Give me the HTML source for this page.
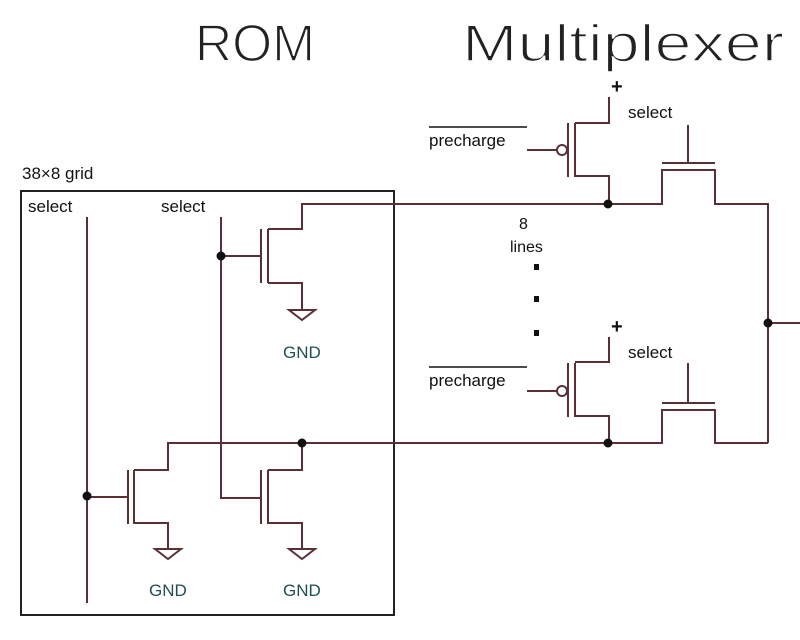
<!DOCTYPE html>
<html><head><style>
html,body{margin:0;padding:0;background:#fff;}
svg{display:block;}
text{font-family:"Liberation Sans","DejaVu Sans",sans-serif;}
</style></head><body>
<svg width="800" height="640" viewBox="0 0 800 640" xmlns="http://www.w3.org/2000/svg">
<rect width="800" height="640" fill="#fff"/>
<text x="195" y="61" font-size="52" fill="#222" textLength="120" lengthAdjust="spacingAndGlyphs" stroke="#fff" stroke-width="1.5">ROM</text>
<text x="462" y="61" font-size="52" fill="#222" textLength="322" lengthAdjust="spacingAndGlyphs" stroke="#fff" stroke-width="1.5">Multiplexer</text>
<text x="22" y="179" font-size="17" fill="#111">38×8 grid</text>
<rect x="21" y="191" width="373" height="424" fill="none" stroke="#222" stroke-width="2"/>
<g fill="#111" font-size="17">
<text x="28" y="212">select</text>
<text x="161" y="212">select</text>
<text x="429" y="146">precharge</text>
<text x="429" y="386">precharge</text>
<text x="628" y="118">select</text>
<text x="628" y="358">select</text>
<text x="519" y="229" font-size="16">8</text>
<text x="510" y="252" font-size="16">lines</text>
<text x="611" y="93" font-size="20" font-weight="bold">+</text>
<text x="611" y="333" font-size="20" font-weight="bold">+</text>
</g>
<g fill="#1f4f55" font-size="17">
<text x="283" y="358">GND</text>
<text x="149" y="596">GND</text>
<text x="283" y="596">GND</text>
</g>
<g stroke="#111" stroke-width="1.5">
<line x1="429" y1="127" x2="527" y2="127"/>
<line x1="429" y1="367" x2="527" y2="367"/>
</g>
<g stroke="#5a3035" stroke-width="2" fill="none">
<line x1="87" y1="217" x2="87" y2="603"/>
<polyline points="221,217 221,498 261,498"/>
<line x1="221" y1="256" x2="261" y2="256"/>
<line x1="261" y1="229" x2="261" y2="283"/>
<line x1="268" y1="229" x2="268" y2="283"/>
<polyline points="268,229 302,229 302,204 608,204"/>
<polyline points="268,283 302,283 302,310"/>
<polygon points="289,310 315,310 302,320"/>
<line x1="87" y1="497" x2="128" y2="497"/>
<line x1="128" y1="470" x2="128" y2="524"/>
<line x1="134" y1="470" x2="134" y2="524"/>
<polyline points="134,470 168,470 168,443 608,443"/>
<polyline points="134,523 168,523 168,549"/>
<polygon points="155,549 181,549 168,559"/>
<line x1="261" y1="470" x2="261" y2="524"/>
<line x1="268" y1="470" x2="268" y2="524"/>
<polyline points="268,470 302,470 302,443"/>
<polyline points="268,523 302,523 302,549"/>
<polygon points="289,549 315,549 302,559"/>
<polyline points="609,97 609,123 575,123"/>
<line x1="568" y1="123" x2="568" y2="177"/>
<line x1="575" y1="123" x2="575" y2="177"/>
<circle cx="562" cy="150" r="5"/>
<line x1="527" y1="150" x2="557" y2="150"/>
<polyline points="575,176 609,176 609,204"/>
<line x1="688" y1="125" x2="688" y2="163"/>
<line x1="662" y1="163" x2="715" y2="163"/>
<polyline points="608,204 662,204 662,170 715,170 715,204 768,204 768,443"/>
<line x1="768" y1="323" x2="800" y2="323"/>
<polyline points="609,337 609,362 575,362"/>
<line x1="568" y1="363" x2="568" y2="417"/>
<line x1="575" y1="363" x2="575" y2="417"/>
<circle cx="562" cy="391" r="5"/>
<line x1="527" y1="391" x2="557" y2="391"/>
<polyline points="575,416 609,416 609,443"/>
<line x1="688" y1="363" x2="688" y2="403"/>
<line x1="662" y1="403" x2="715" y2="403"/>
<polyline points="608,443 662,443 662,410 715,410 715,443 768,443"/>
</g>
<g fill="#111">
<circle cx="221" cy="256" r="4.5"/>
<circle cx="87" cy="496" r="4.5"/>
<circle cx="302" cy="443" r="4.5"/>
<circle cx="608" cy="204" r="4.5"/>
<circle cx="608" cy="443" r="4.5"/>
<circle cx="768" cy="323" r="4.5"/>
<rect x="534" y="264" width="5" height="6"/>
<rect x="534" y="296" width="5" height="6"/>
<rect x="534" y="330" width="5" height="6"/>
</g>
</svg>
</body></html>
